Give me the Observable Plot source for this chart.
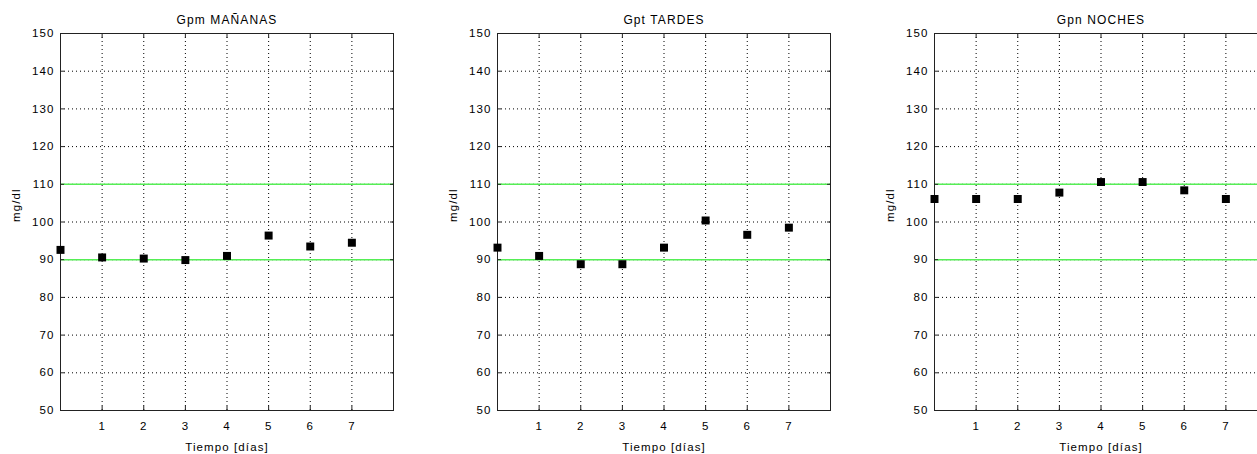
<!DOCTYPE html>
<html>
<head>
<meta charset="utf-8">
<script src="https://cdn.jsdelivr.net/npm/d3@7"></script>
<script src="https://cdn.jsdelivr.net/npm/@observablehq/plot@0.6"></script>
<style>
  html, body { margin: 0; padding: 0; background: #fff; overflow: hidden; }
  #root { position: relative; width: 1257px; height: 454px; overflow: hidden; }
  #root > svg { position: absolute; top: 0; }
</style>
</head>
<body>
<div id="root"></div>
<script>
// ---- data ----
const dias = [0, 1, 2, 3, 4, 5, 6, 7];
const gpmManana = [92.6, 90.6, 90.3, 89.9, 91.0, 96.4, 93.5, 94.5];
const gptTarde  = [93.2, 91.0, 88.8, 88.8, 93.2, 100.4, 96.6, 98.5];
const gpnNoche  = [106.1, 106.1, 106.1, 107.8, 110.6, 110.6, 108.4, 106.1];
const limites = [90, 110];
const xTicks = [1, 2, 3, 4, 5, 6, 7];
const yTicks = [50, 60, 70, 80, 90, 100, 110, 120, 130, 140, 150];
const yGrid = [60, 70, 80, 90, 100, 110, 120, 130, 140];
const titulos = ["Gpm MAÑANAS", "Gpt TARDES", "Gpn NOCHES"];
const xLabel = "Tiempo [días]";
const yLabel = "mg/dl";

const panels = [
  {title: titulos[0], values: gpmManana, left: 0,   marginLeft: 60},
  {title: titulos[1], values: gptTarde,  left: 430, marginLeft: 67},
  {title: titulos[2], values: gpnNoche,  left: 870, marginLeft: 64}
];

const plotW = 333;
const root = document.getElementById("root");

for (const p of panels) {
  const data = dias.map((d, i) => ({dia: d, valor: p.values[i]}));
  const chart = Plot.plot({
    width: p.marginLeft + plotW + 10,
    height: 454,
    marginTop: 33,
    marginBottom: 44,
    marginLeft: p.marginLeft,
    marginRight: 10,
    style: {fontFamily: "Liberation Sans, Arial, sans-serif", fontSize: "11.5px", letterSpacing: "1.1px", color: "#000", background: "#fff", overflow: "visible"},
    x: {domain: [0, 8]},
    y: {domain: [50, 150]},
    marks: [
      Plot.gridX({ticks: xTicks, stroke: "#000", strokeOpacity: 1, strokeWidth: 1, strokeDasharray: "1,3"}),
      Plot.gridY({ticks: yGrid, stroke: "#000", strokeOpacity: 1, strokeWidth: 1, strokeDasharray: "1,3"}),
      Plot.ruleY(limites, {stroke: "#55ee55", strokeWidth: 1.4}),
      Plot.frame({stroke: "#222", strokeWidth: 1}),
      Plot.axisX({anchor: "bottom", ticks: xTicks, tickSize: -4, tickPadding: 15, label: null, stroke: "#222"}),
      Plot.axisX({anchor: "top", ticks: xTicks, tickSize: -4, tickFormat: () => "", label: null, stroke: "#222"}),
      Plot.axisY({anchor: "left", ticks: yTicks, tickSize: -4, tickPadding: 10, label: null, stroke: "#222"}),
      Plot.axisY({anchor: "right", ticks: yTicks, tickSize: -4, tickFormat: () => "", label: null, stroke: "#222"}),
      Plot.dot(data, {x: "dia", y: "valor", symbol: "square", r: 4.5, fill: "#000", stroke: null}),
      Plot.text([p.title], {frameAnchor: "top", dy: -13, lineAnchor: "middle", fill: "#000", fontSize: 12}),
      Plot.text([xLabel], {frameAnchor: "bottom", dy: 37, lineAnchor: "middle", fill: "#000"}),
      Plot.text([yLabel], {frameAnchor: "left", dx: -44, rotate: -90, lineAnchor: "middle", fill: "#000"})
    ]
  });
  chart.style.left = p.left + "px";
  root.appendChild(chart);
}
</script>
</body>
</html>
